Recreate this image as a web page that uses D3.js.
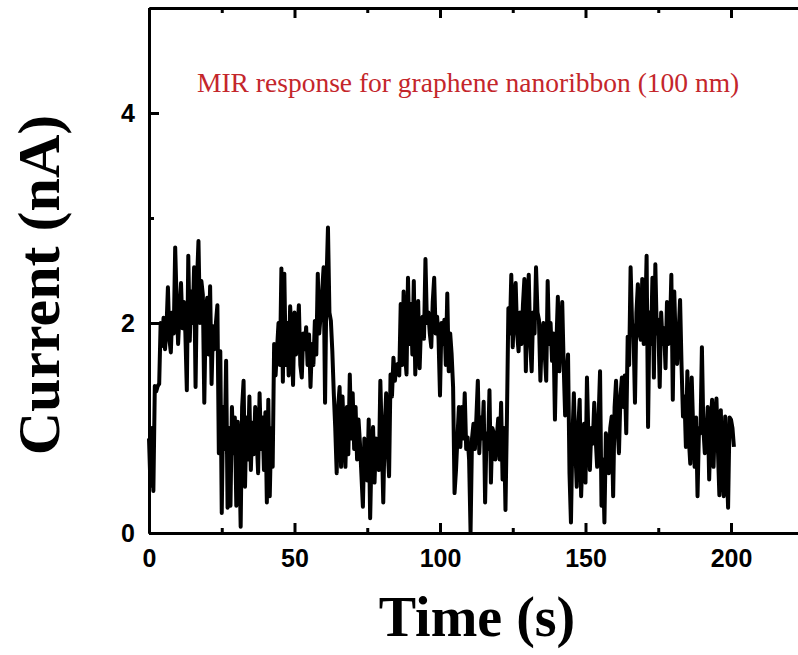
<!DOCTYPE html>
<meta charset="utf-8">
<html>
  <head>
    <script src="https://d3js.org/d3.v7.min.js"></script>
    <style>
      body { margin: 0; background: #fff; }
      svg { display: block; }
    </style>
  </head>
  <body>
    <div id="chart"></div>

    <script type="text/javascript">
      // samples are 0.5 s apart, starting at t = 0
      var sampleStep = 0.5;
      var current = [
        0.9, 0.45, 1.0, 0.4, 1.4, 1.35, 1.4, 1.42, 2.0, 1.78, 2.05, 1.75, 1.95, 2.34, 1.85, 1.72, 2.1, 1.9, 2.72, 2.2,
        1.8, 2.1, 2.38, 1.95, 2.2, 1.9, 1.36, 2.64, 1.83, 2.3, 2.0, 2.53, 1.39, 2.4, 2.78, 2.0, 2.4, 2.27, 1.24, 2.1,
        2.24, 1.7, 2.35, 1.42, 1.97, 1.75, 2.0, 2.17, 0.76, 1.73, 0.19, 1.2, 0.8, 1.64, 0.24, 1.0, 0.26, 1.2, 0.76, 1.1,
        0.26, 1.06, 0.8, 0.06, 1.2, 1.45, 0.44, 1.1, 0.7, 1.3, 0.6, 1.05, 0.75, 1.2, 0.9, 0.57, 1.33, 0.8, 1.1, 0.6,
        1.15, 0.29, 1.27, 0.35, 1.0, 0.63, 1.8, 1.5, 1.75, 2.0, 1.6, 2.52, 1.44, 2.47, 1.6, 2.0, 1.5, 2.16, 1.9, 1.41,
        2.1, 1.7, 1.9, 2.17, 1.6, 1.48, 1.9, 1.75, 1.96, 1.6, 1.89, 1.39, 1.8, 1.6, 2.02, 1.7, 2.47, 1.9, 2.08, 2.3,
        2.53, 1.24, 2.4, 2.91, 2.1, 2.02, 1.73, 1.33, 1.0, 0.57, 1.2, 1.39, 0.63, 1.3, 0.9, 0.63, 1.2, 0.75, 1.51, 0.9,
        1.33, 0.8, 1.2, 0.7, 1.08, 0.85, 0.55, 0.25, 0.9, 0.79, 0.5, 1.08, 0.14, 0.8, 1.01, 0.48, 0.9, 0.82, 0.6, 1.45,
        0.9, 0.29, 1.0, 1.33, 0.8, 0.54, 1.51, 1.3, 1.67, 1.45, 1.6, 1.61, 1.5, 2.18, 1.6, 2.3, 1.7, 1.51, 2.43, 1.8,
        2.18, 1.7, 2.4, 1.51, 1.9, 2.21, 1.57, 2.0, 2.06, 1.85, 2.61, 2.0, 2.1, 1.9, 1.77, 2.2, 2.43, 1.9, 2.06, 1.85,
        1.31, 2.0, 1.8, 2.03, 1.6, 2.28, 1.54, 1.9, 1.7, 1.39, 0.38, 0.6, 0.91, 1.2, 0.82, 1.2, 0.9, 1.33, 0.8, 0.91,
        0.7, 0.01, 0.9, 1.04, 0.8, 1.1, 1.45, 0.76, 1.1, 0.9, 1.25, 0.29, 0.95, 0.8, 1.36, 0.48, 1.0, 0.95, 0.7, 0.9,
        1.09, 0.7, 1.24, 0.51, 1.0, 0.22, 1.1, 2.14, 1.9, 2.46, 1.77, 2.2, 2.38, 1.9, 1.73, 2.1, 1.8, 2.17, 2.42, 1.54,
        2.2, 2.46, 1.8, 1.54, 2.1, 1.9, 2.53, 2.1, 2.03, 1.45, 1.9, 2.0, 1.7, 1.45, 2.4, 1.8, 2.0, 1.64, 1.9, 1.08,
        1.8, 2.25, 1.54, 1.9, 2.2, 1.6, 1.12, 1.5, 1.7, 0.57, 0.1, 0.9, 1.33, 0.8, 0.44, 1.0, 1.27, 0.35, 0.8, 1.04,
        0.48, 1.48, 0.9, 0.6, 1.0, 0.85, 1.24, 0.9, 0.63, 1.1, 1.54, 0.26, 0.7, 0.1, 0.95, 0.8, 0.57, 1.0, 1.11, 0.35,
        1.2, 1.45, 1.0, 0.76, 1.3, 1.48, 1.2, 1.5, 0.95, 1.87, 1.6, 2.53, 2.0, 1.9, 1.24, 2.1, 2.37, 1.9, 1.84, 2.42,
        1.8, 2.0, 2.64, 1.01, 2.1, 1.8, 2.43, 1.48, 2.56, 1.9, 2.03, 1.39, 2.1, 1.8, 1.95, 1.57, 2.2, 1.8, 1.9, 2.46,
        1.27, 2.3, 1.8, 1.61, 1.9, 2.22, 1.6, 1.11, 1.3, 0.82, 1.54, 0.9, 0.66, 1.48, 1.0, 0.63, 1.1, 0.35, 1.0, 0.95,
        1.77, 1.0, 0.76, 0.9, 1.2, 0.51, 1.0, 1.27, 0.63, 1.1, 1.28, 0.8, 0.36, 1.17, 0.6, 0.35, 1.11, 0.7, 0.24, 1.1,
        1.08, 1.0, 0.82
      ];

      var xMajorTicks = [0, 50, 100, 150, 200],
          xMinorTicks = [25, 75, 125, 175],
          yMajorTicks = [0, 2, 4],
          yMinorTicks = [1, 3];

      var title = "MIR response for graphene nanoribbon (100 nm)",
          xTitle = "Time (s)",
          yTitle = "Current (nA)";

      var W = 798, H = 655,
          plotLeft = 149, plotTop = 8, plotBottom = 533,
          pxPerSec = 2.91;

      var data = current.map(function(v, i){ return { t: i * sampleStep, v: v }; });

      var x = d3.scaleLinear().domain([0, 225]).range([plotLeft, plotLeft + 225 * pxPerSec]);
      var y = d3.scaleLinear().domain([0, 5]).range([plotBottom, plotTop]);

      var svg = d3.select("#chart").append("svg")
          .attr("width", W)
          .attr("height", H);

      var numFont = "'Liberation Sans', Arial, sans-serif";
      var serif = "'Liberation Serif', 'Times New Roman', serif";

      function styleAxis(g){
        g.selectAll("path.domain").style("stroke", "#000").style("stroke-width", "3px");
        g.selectAll(".tick line").style("stroke", "#000").style("stroke-width", "3px");
        g.selectAll("text")
          .style("font-family", numFont)
          .style("font-weight", "bold")
          .style("font-size", "25px")
          .style("fill", "#000");
      }

      // bottom axis
      svg.append("g")
          .attr("transform", "translate(0," + plotBottom + ")")
          .call(d3.axisBottom(x).tickValues(xMinorTicks).tickSizeInner(-5).tickSizeOuter(0).tickFormat(""))
          .call(styleAxis);
      svg.append("g")
          .attr("transform", "translate(0," + plotBottom + ")")
          .call(d3.axisBottom(x).tickValues(xMajorTicks).tickSizeInner(-10).tickSizeOuter(0).tickPadding(16).tickFormat(d3.format("d")))
          .call(styleAxis);

      // top axis
      svg.append("g")
          .attr("transform", "translate(0," + plotTop + ")")
          .call(d3.axisTop(x).tickValues(xMinorTicks).tickSizeInner(-5).tickSizeOuter(0).tickFormat(""))
          .call(styleAxis);
      svg.append("g")
          .attr("transform", "translate(0," + plotTop + ")")
          .call(d3.axisTop(x).tickValues(xMajorTicks).tickSizeInner(-10).tickSizeOuter(0).tickFormat(""))
          .call(styleAxis);

      // left axis
      svg.append("g")
          .attr("transform", "translate(" + plotLeft + ",0)")
          .call(d3.axisLeft(y).tickValues(yMinorTicks).tickSizeInner(-5).tickSizeOuter(0).tickFormat(""))
          .call(styleAxis);
      svg.append("g")
          .attr("transform", "translate(" + plotLeft + ",0)")
          .call(d3.axisLeft(y).tickValues(yMajorTicks).tickSizeInner(-10).tickSizeOuter(0).tickPadding(14).tickFormat(d3.format("d")))
          .call(styleAxis);

      var line = d3.line()
          .x(function(d){ return x(d.t); })
          .y(function(d){ return y(d.v); });

      svg.append("path")
          .datum(data)
          .attr("d", line)
          .style("fill", "none")
          .style("stroke", "#000")
          .style("stroke-width", "4px")
          .style("stroke-linejoin", "round");

      svg.append("text")
          .attr("x", 197)
          .attr("y", 92)
          .text(title)
          .style("font-family", serif)
          .style("font-size", "27.5px")
          .style("fill", "#c4262b");

      svg.append("text")
          .attr("x", 477)
          .attr("y", 636)
          .attr("text-anchor", "middle")
          .text(xTitle)
          .style("font-family", serif)
          .style("font-weight", "bold")
          .style("font-size", "56px")
          .style("fill", "#000");

      svg.append("text")
          .attr("transform", "translate(59,285) rotate(-90)")
          .attr("text-anchor", "middle")
          .text(yTitle)
          .style("font-family", serif)
          .style("font-weight", "bold")
          .style("font-size", "60px")
          .style("fill", "#000");
    </script>
  </body>
</html>
